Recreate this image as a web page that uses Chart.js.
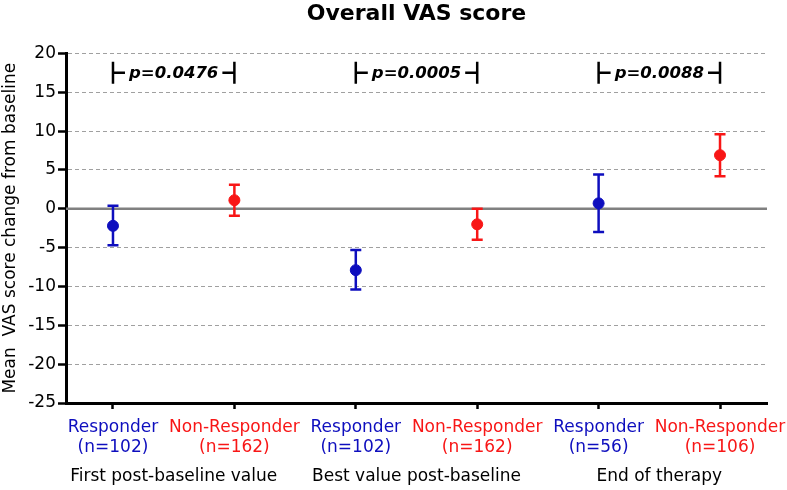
<!DOCTYPE html>
<html>
<head>
<meta charset="utf-8">
<script src="https://cdn.jsdelivr.net/npm/chart.js@4.4.1/dist/chart.umd.min.js"></script>
<style>
html,body{margin:0;padding:0;background:#fff;}
#wrap{width:787px;height:490px;position:relative;}
</style>
</head>
<body>
<div id="wrap"><canvas id="c" width="787" height="490"></canvas></div>
<script>
// ---- data ----
const xPositions = [1, 2, 3, 4, 5, 6];
const categories = ['Responder', 'Non-Responder', 'Responder', 'Non-Responder', 'Responder', 'Non-Responder'];
const sampleSizes = ['(n=102)', '(n=162)', '(n=102)', '(n=162)', '(n=56)', '(n=106)'];
const groups = ['First post-baseline value', 'Best value post-baseline', 'End of therapy'];
const means = [-2.2, 1.1, -7.9, -2.0, 0.7, 6.9];
const upper = [0.4, 3.1, -5.3, 0.0, 4.4, 9.6];
const lower = [-4.7, -0.9, -10.4, -4.0, -3.0, 4.2];
const pValues = ['p=0.0476', 'p=0.0005', 'p=0.0088'];
const bracketLevel = 17.5;
const yTicks = [-25, -20, -15, -10, -5, 0, 5, 10, 15, 20];

const BLUE = '#0e0ebe';
const RED = '#f81616';
const FONT = 'DejaVu Sans';
const colorOf = i => (i % 2 === 0 ? BLUE : RED);

const respIdx = xPositions.map((x, i) => i).filter(i => i % 2 === 0);
const nonIdx = xPositions.map((x, i) => i).filter(i => i % 2 === 1);

const errorBarPlugin = {
  id: 'errorBars',
  beforeDatasetsDraw(chart) {
    const {ctx, scales: {x, y}, chartArea} = chart;
    ctx.save();
    // zero line
    ctx.strokeStyle = '#808080';
    ctx.lineWidth = 2.5;
    ctx.beginPath();
    ctx.moveTo(chartArea.left, y.getPixelForValue(0));
    ctx.lineTo(chartArea.right, y.getPixelForValue(0));
    ctx.stroke();
    // error bars
    ctx.lineWidth = 2.5;
    xPositions.forEach((xv, i) => {
      const px = x.getPixelForValue(xv);
      const pu = y.getPixelForValue(upper[i]);
      const pl = y.getPixelForValue(lower[i]);
      ctx.strokeStyle = colorOf(i);
      ctx.beginPath();
      ctx.moveTo(px, pu); ctx.lineTo(px, pl);
      ctx.moveTo(px - 5.5, pu); ctx.lineTo(px + 5.5, pu);
      ctx.moveTo(px - 5.5, pl); ctx.lineTo(px + 5.5, pl);
      ctx.stroke();
    });
    ctx.restore();
  },
  afterDraw(chart) {
    const {ctx, scales: {x, y}} = chart;
    ctx.save();
    // p-value brackets
    pValues.forEach((p, g) => {
      const x1 = x.getPixelForValue(xPositions[g * 2]);
      const x2 = x.getPixelForValue(xPositions[g * 2 + 1]);
      const yc = y.getPixelForValue(bracketLevel);
      ctx.strokeStyle = '#000';
      ctx.lineWidth = 2.5;
      ctx.beginPath();
      ctx.moveTo(x1, yc - 11); ctx.lineTo(x1, yc + 11);
      ctx.moveTo(x1, yc); ctx.lineTo(x1 + 12, yc);
      ctx.moveTo(x2, yc - 11); ctx.lineTo(x2, yc + 11);
      ctx.moveTo(x2, yc); ctx.lineTo(x2 - 12, yc);
      ctx.stroke();
      ctx.fillStyle = '#000';
      ctx.font = 'italic bold 16.5px "' + FONT + '"';
      ctx.textAlign = 'center';
      ctx.textBaseline = 'middle';
      ctx.fillText(p, (x1 + x2) / 2, yc + 1);
    });
    // group labels
    ctx.font = '17px "' + FONT + '"';
    ctx.fillStyle = '#000';
    ctx.textAlign = 'center';
    ctx.textBaseline = 'middle';
    groups.forEach((gname, g) => {
      const x1 = x.getPixelForValue(xPositions[g * 2]);
      const x2 = x.getPixelForValue(xPositions[g * 2 + 1]);
      ctx.fillText(gname, (x1 + x2) / 2, 477);
    });
    ctx.restore();
  }
};

new Chart(document.getElementById('c'), {
  type: 'scatter',
  data: {
    datasets: [
      {
        label: 'Responder',
        data: respIdx.map(i => ({x: xPositions[i], y: means[i]})),
        backgroundColor: BLUE, borderColor: BLUE,
        pointRadius: 5.5, pointHoverRadius: 5.5
      },
      {
        label: 'Non-Responder',
        data: nonIdx.map(i => ({x: xPositions[i], y: means[i]})),
        backgroundColor: RED, borderColor: RED,
        pointRadius: 5.5, pointHoverRadius: 5.5
      }
    ]
  },
  options: {
    responsive: false,
    animation: false,
    events: [],
    layout: {padding: {left: 0, right: 20, top: 0, bottom: 0}},
    plugins: {
      legend: {display: false},
      tooltip: {enabled: false},
      title: {
        display: true,
        fullSize: false,
        text: 'Overall VAS score',
        color: '#000',
        font: {family: FONT, size: 22, weight: 'bold'},
        padding: {top: 1, bottom: 26}
      }
    },
    scales: {
      x: {
        type: 'linear',
        min: 0.613, max: 6.387,
        afterBuildTicks: s => { s.ticks = xPositions.map(v => ({value: v})); },
        afterFit: s => { s.height = 87; s.paddingLeft = 0; s.paddingRight = 0; },
        border: {display: true, color: '#000', width: 3},
        grid: {drawOnChartArea: false, drawTicks: true, tickLength: 6, tickColor: '#000', tickWidth: 2.5},
        ticks: {
          autoSkip: false,
          maxRotation: 0,
          padding: 8,
          font: {family: FONT, size: 17},
          color: ctx => colorOf(ctx.index),
          callback: (v, i) => [categories[i], sampleSizes[i]]
        }
      },
      y: {
        min: -25, max: 20,
        afterBuildTicks: s => { s.ticks = yTicks.map(v => ({value: v})); },
        afterFit: s => { s.width = 66; },
        border: {display: true, color: '#000', width: 3, dash: [4, 3]},
        grid: {
          color: c => (c.tick && (c.tick.value === 0 || c.tick.value === -25)) ? 'rgba(0,0,0,0)' : '#a0a0a0',
          lineWidth: 1,
          drawTicks: true, tickLength: 8, tickColor: '#000', tickWidth: 2.5, tickBorderDash: []
        },
        ticks: {
          padding: 2,
          font: {family: FONT, size: 17},
          color: '#000'
        },
        title: {
          display: true,
          text: 'Mean  VAS score change from baseline',
          color: '#000',
          font: {family: FONT, size: 17},
          padding: {top: 0, bottom: 0}
        }
      }
    }
  },
  plugins: [errorBarPlugin]
});
</script>
</body>
</html>
